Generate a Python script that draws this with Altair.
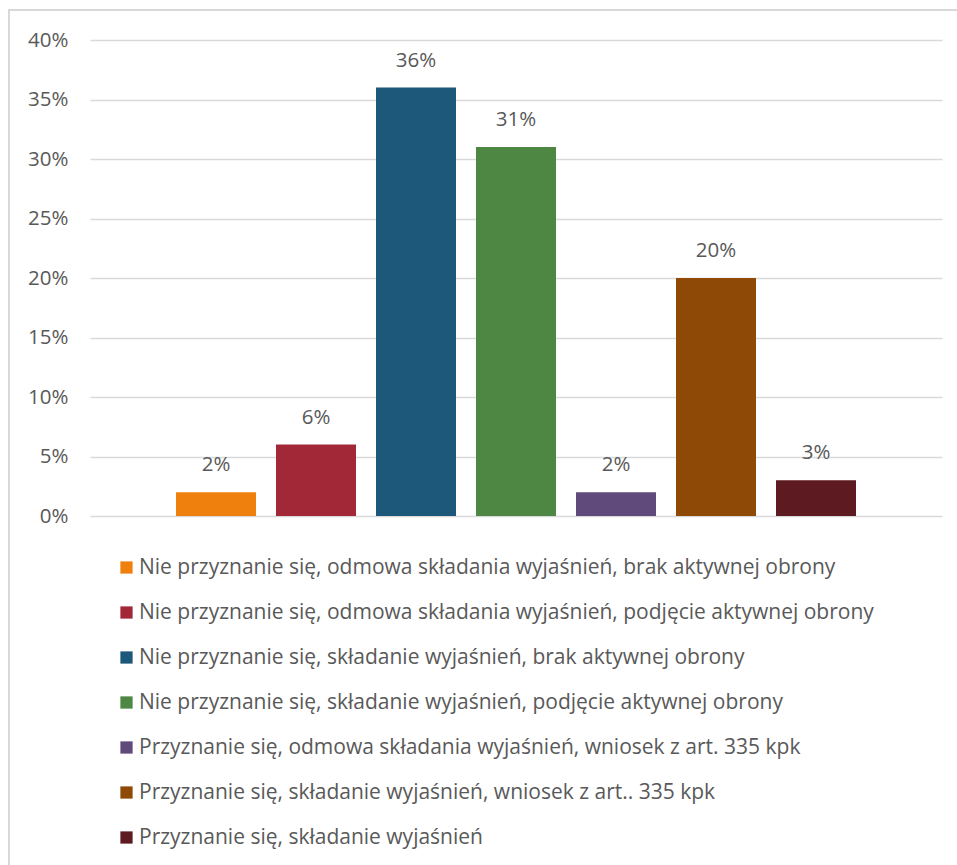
import altair as alt
import pandas as pd

categories = [
    "Nie przyznanie się, odmowa składania wyjaśnień, brak aktywnej obrony",
    "Nie przyznanie się, odmowa składania wyjaśnień, podjęcie aktywnej obrony",
    "Nie przyznanie się, składanie wyjaśnień, brak aktywnej obrony",
    "Nie przyznanie się, składanie wyjaśnień, podjęcie aktywnej obrony",
    "Przyznanie się, odmowa składania wyjaśnień, wniosek z art. 335 kpk",
    "Przyznanie się, składanie wyjaśnień, wniosek z art.. 335 kpk",
    "Przyznanie się, składanie wyjaśnień",
]
values = [0.02, 0.06, 0.36, 0.31, 0.02, 0.20, 0.03]
colors = ["#F0800E", "#A22838", "#1D577A", "#4D8743", "#5F4A7B", "#8F4906", "#5E1A21"]
y_ticks = [0, 0.05, 0.10, 0.15, 0.20, 0.25, 0.30, 0.35, 0.40]

df = pd.DataFrame({"cat": categories, "val": values})

FONT = "Open Sans"
GREY = "#595959"
FS = 20.5
LFS = 21

x_enc = alt.X("cat:N", sort=categories, axis=None,
              scale=alt.Scale(paddingInner=0.2, paddingOuter=0.86))
y_enc = alt.Y("val:Q", title=None,
              scale=alt.Scale(domain=[0, 0.4], nice=False),
              axis=alt.Axis(values=y_ticks, format=".0%", domain=False, ticks=False,
                            labelFontSize=FS, labelColor=GREY, labelFont=FONT,
                            labelPadding=22, gridColor="#D9D9D9", gridWidth=1.5))

bars = alt.Chart(df).mark_bar().encode(
    x=x_enc,
    y=y_enc,
    color=alt.Color("cat:N", sort=categories,
                    scale=alt.Scale(domain=categories, range=colors),
                    legend=alt.Legend(title=None, orient="none", legendX=26, legendY=517,
                                      direction="vertical", symbolType="square",
                                      symbolSize=150, symbolStrokeWidth=0,
                                      labelFontSize=LFS, labelFont=FONT, labelColor=GREY,
                                      labelLimit=900, rowPadding=23, labelOffset=2)),
)

labels = alt.Chart(df).mark_text(dy=-27, fontSize=FS, font=FONT, color=GREY).encode(
    x=alt.X("cat:N", sort=categories, axis=None),
    y=alt.Y("val:Q"),
    text=alt.Text("val:Q", format=".0%"),
)

border = alt.Chart(df).mark_rect(fill=None, stroke="#D9D9D9", strokeWidth=2, clip=False).encode(
    x=alt.value(-81), x2=alt.value(900), y=alt.value(-30), y2=alt.value(900)
)

chart = alt.layer(border, bars, labels).properties(
    width=852, height=476,
    autosize=alt.AutoSizeParams(type="none"),
    padding={"left": 90, "top": 40, "right": 15, "bottom": 349},
    background="white",
).configure_view(stroke=None)

chart.save("out.html", embed_options={"renderer": "svg", "actions": False})
